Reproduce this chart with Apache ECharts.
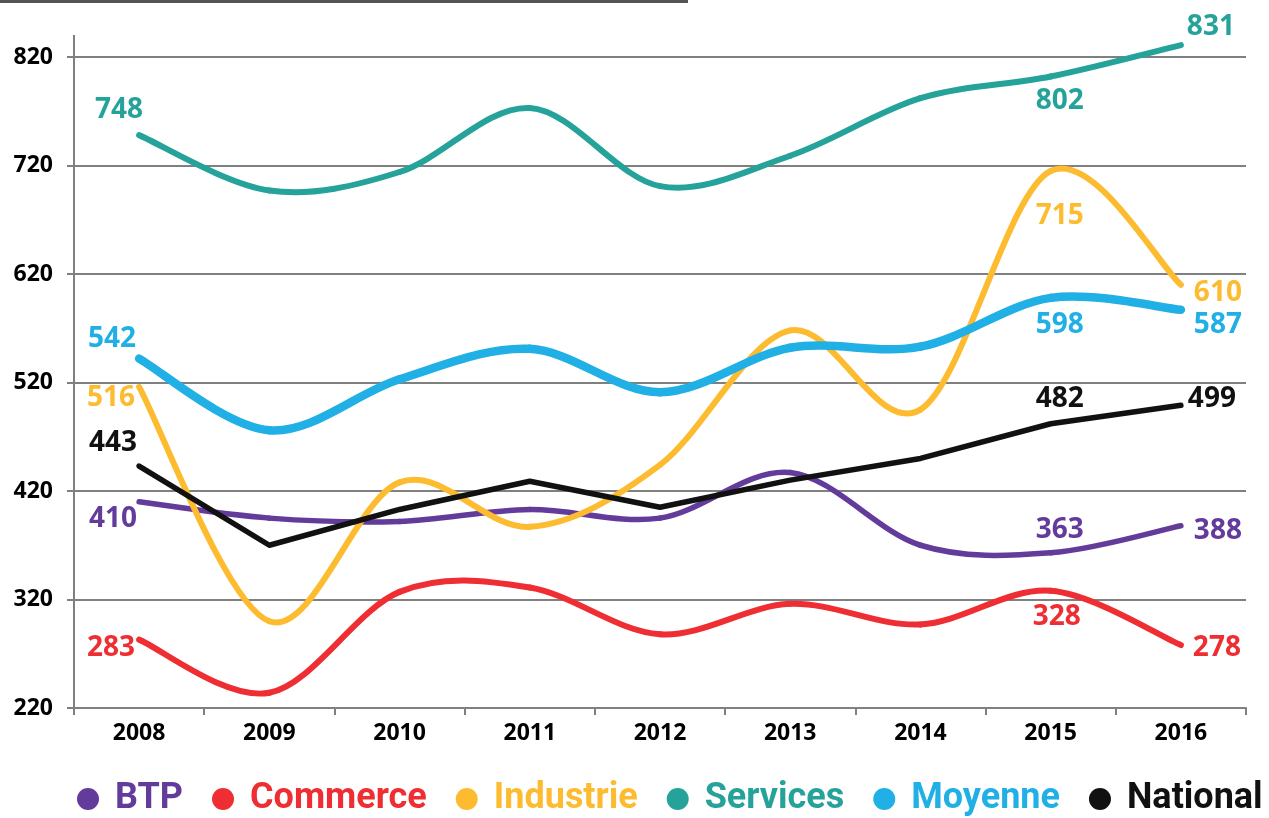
<!DOCTYPE html>
<html>
<head>
<meta charset="utf-8">
<script src="https://cdn.jsdelivr.net/npm/echarts@6/dist/echarts.min.js"></script>
<style>
html,body{margin:0;padding:0;background:#fff;}
#chart{width:1269px;height:818px;}
</style>
</head>
<body>
<div id="chart"></div>
<script>
const categories = ['2008','2009','2010','2011','2012','2013','2014','2015','2016'];
const btp       = [410, 395, 392, 403, 395, 437, 370, 363, 388];
const commerce  = [283, 234, 327, 331, 288, 316, 297, 328, 278];
const industrie = [516, 300, 428, 387, 444, 568, 495, 715, 610];
const services  = [748, 697, 714, 773, 701, 729, 782, 802, 831];
const moyenne   = [542, 476, 523, 551, 511, 552, 553, 598, 587];
const national  = [443, 370, 403, 429, 405, 430, 450, 482, 499];
const yMin = 220, yMax = 820, yStep = 100;

const colors = {
  BTP: '#633C9B', Commerce: '#EE2E32', Industrie: '#FDBB30',
  Services: '#25A39B', Moyenne: '#20B0E6', National: '#111111'
};
// label offsets (px) for labelled points, by index
const labelOffsets = {
  BTP:       {0: [-26, 17], 7: [9, -23], 8: [37, 5]},
  Commerce:  {0: [-28, 8],  7: [6, 26],  8: [36, 3]},
  Industrie: {0: [-28, 11], 7: [9, 45],  8: [37, 8]},
  Services:  {0: [-20, -25],7: [9, 25],  8: [30, -18]},
  Moyenne:   {0: [-27, -20],7: [9, 27],  8: [37, 15]},
  National:  {0: [-26, -23],7: [9, -25], 8: [31, -6]}
};
const widths = {BTP: 5.5, Commerce: 6, Industrie: 6, Services: 6, Moyenne: 8.5, National: 5.5};
const labelFont = 'bold 28px "Open Sans"';

function makeSeries(name, values, smooth) {
  const offs = labelOffsets[name];
  const color = colors[name];
  return {
    name: name,
    type: 'custom',
    coordinateSystem: 'cartesian2d',
    itemStyle: {color: color},
    encode: {x: 0, y: 1},
    data: values.map((v, i) => [i, v]),
    silent: true,
    renderItem: function (params, api) {
      if (params.dataIndex !== 0) return null;
      const pts = values.map((v, i) => api.coord([i, v]));
      const children = [];
      const lineStyle = {stroke: color, lineWidth: widths[name], fill: null, lineCap: 'round', lineJoin: 'round'};
      if (smooth) {
        const n = pts.length;
        for (let i = 0; i < n - 1; i++) {
          const p0 = pts[Math.max(i - 1, 0)], p1 = pts[i], p2 = pts[i + 1], p3 = pts[Math.min(i + 2, n - 1)];
          children.push({
            type: 'bezierCurve',
            shape: {
              x1: p1[0], y1: p1[1], x2: p2[0], y2: p2[1],
              cpx1: p1[0] + (p2[0] - p0[0]) / 6, cpy1: p1[1] + (p2[1] - p0[1]) / 6,
              cpx2: p2[0] - (p3[0] - p1[0]) / 6, cpy2: p2[1] - (p3[1] - p1[1]) / 6
            },
            style: lineStyle
          });
        }
      } else {
        children.push({type: 'polyline', shape: {points: pts}, style: lineStyle});
      }
      Object.keys(offs).forEach(k => {
        const i = +k, p = pts[i];
        children.push({
          type: 'text', z2: 100,
          x: p[0] + offs[k][0], y: p[1] + offs[k][1],
          style: {text: String(values[i]), fill: color, font: labelFont, align: 'center', verticalAlign: 'middle'}
        });
      });
      return {type: 'group', children: children};
    }
  };
}

const chart = echarts.init(document.getElementById('chart'), null, {renderer: 'canvas'});
const axisFont = {fontFamily: 'Open Sans', fontWeight: 'bold', fontSize: 23, color: '#000'};
chart.setOption({
  animation: false,
  backgroundColor: '#fff',
  grid: {left: 74, right: 23, top: 57, bottom: 110, containLabel: false},
  legend: {
    left: 77, top: 781, width: 1192, itemWidth: 22, itemHeight: 22, itemGap: 29, icon: 'circle',
    padding: 0,
    textStyle: {fontFamily: 'Roboto', fontWeight: 'bold', fontSize: 36, padding: [0, 0, 0, 11]},
    data: ['BTP','Commerce','Industrie','Services','Moyenne','National'].map(n => ({name: n, textStyle: {color: colors[n]}}))
  },
  xAxis: {
    type: 'category', data: categories, boundaryGap: true,
    axisLine: {lineStyle: {color: '#808080', width: 2}},
    axisTick: {show: true, length: 7, lineStyle: {color: '#808080', width: 2}},
    axisLabel: Object.assign({margin: 14}, axisFont),
    splitLine: {show: false}
  },
  yAxis: {
    type: 'value', min: yMin, max: yMax, interval: yStep,
    axisLine: {show: true, lineStyle: {color: '#808080', width: 2}},
    axisTick: {show: true, length: 7, lineStyle: {color: '#808080', width: 2}},
    axisLabel: Object.assign({margin: 21}, axisFont),
    splitLine: {show: true, lineStyle: {color: '#808080', width: 2}}
  },
  graphic: [
    {type: 'line', shape: {x1: 0, y1: 1.5, x2: 688, y2: 1.5}, style: {stroke: '#555', lineWidth: 3}},
    {type: 'line', shape: {x1: 74, y1: 35, x2: 74, y2: 58}, style: {stroke: '#808080', lineWidth: 2}}
  ],
  series: [
    makeSeries('BTP', btp, true),
    makeSeries('Commerce', commerce, true),
    makeSeries('Industrie', industrie, true),
    makeSeries('Services', services, true),
    makeSeries('Moyenne', moyenne, true),
    makeSeries('National', national, false)
  ]
});
</script>
</body>
</html>
